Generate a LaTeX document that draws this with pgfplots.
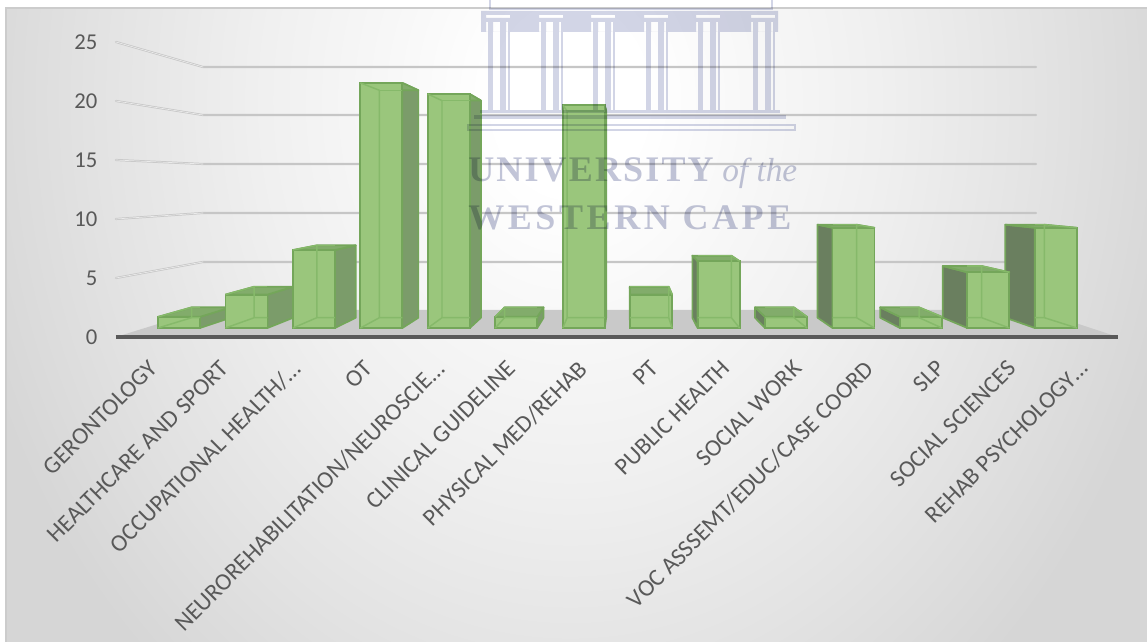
\documentclass[border=0pt]{standalone}
\usepackage{pgfplots}
\usepackage{fontspec}
\pgfplotsset{compat=1.18}
\setmainfont{Carlito}
\newfontfamily\wmfont[LetterSpace=6]{Liberation Serif}
\newfontfamily\wmwide[LetterSpace=10]{Liberation Serif}
\definecolor{labelgrey}{HTML}{595959}
\definecolor{floorgrey}{HTML}{C9C9C9}
\definecolor{gridgrey}{HTML}{C6C6C6}
\definecolor{barfront}{HTML}{9AC67C}
\definecolor{baredge}{HTML}{74A65A}
\definecolor{barinner}{HTML}{86B96A}
\definecolor{barright}{HTML}{7B9C6A}
\definecolor{barleft}{HTML}{6A7F5F}
\definecolor{bartop}{HTML}{82AC6B}
\definecolor{wmblue}{HTML}{D2D5E6}
\definecolor{wmtext}{HTML}{C2C5D8}
\pgfdeclareradialshading{bgglow}{\pgfpoint{0bp}{0bp}}{%
  color(0bp)=(white); color(3bp)=(white); color(7.5bp)=(white!97!black);
  color(12.5bp)=(white!94!black); color(19bp)=(white!89!black); color(25bp)=(white!84!black);
  color(50bp)=(white!84!black)}

\pgfplotstableread{
x       v
179     1
246.45  3
313.9   7
381.35  22
448.8   21
516.25  1
583.7   20
651.15  3
718.6   6
786.05  1
853.5   9
920.95  1
988.4   5
1055.85 9
}\bardata

% side, top and back edges of one bar, in the plane of the bar axis
\newcommand{\depthfaces}[2]{%
  \pgfmathsetmacro\xl{#1-21}\pgfmathsetmacro\xr{#1+21}%
  \pgfmathsetmacro\bl{.928*\xl+45}\pgfmathsetmacro\br{.928*\xr+45}%
  \pgfmathsetmacro\bt{.924+.928*#2}%
  \ifdim#1pt<620pt
    \edef\temp{\noexpand\addplot[barface,fill=barright] coordinates {(\xr,0) (\br,.924) (\br,\bt) (\xr,#2) (\xr,0)};}\temp
  \else
    \edef\temp{\noexpand\addplot[barface,fill=barleft] coordinates {(\xl,0) (\bl,.924) (\bl,\bt) (\xl,#2) (\xl,0)};}\temp
  \fi
  \edef\temp{\noexpand\addplot[barface,fill=bartop] coordinates {(\xl,#2) (\bl,\bt) (\br,\bt) (\xr,#2) (\xl,#2)};}\temp
}
\newcommand{\inneredges}[2]{%
  \pgfmathsetmacro\xl{#1-21}\pgfmathsetmacro\xr{#1+21}%
  \pgfmathsetmacro\bl{.928*\xl+45}\pgfmathsetmacro\br{.928*\xr+45}%
  \pgfmathsetmacro\bt{.924+.928*#2}%
  \ifdim#1pt<620pt
    \edef\temp{\noexpand\addplot[barline] coordinates {(\xl,0) (\bl,.924) (\xr,.924)};}\temp
    \edef\temp{\noexpand\addplot[barline] coordinates {(\xl,#2) (\bl,\bt) (\bl,.924)};}\temp
    \edef\temp{\noexpand\addplot[barline] coordinates {(\bl,\bt) (\xr,\bt)};}\temp
  \else
    \edef\temp{\noexpand\addplot[barline] coordinates {(\xr,0) (\br,.924) (\xl,.924)};}\temp
    \edef\temp{\noexpand\addplot[barline] coordinates {(\xr,#2) (\br,\bt) (\br,.924)};}\temp
    \edef\temp{\noexpand\addplot[barline] coordinates {(\br,\bt) (\xl,\bt)};}\temp
  \fi
}

\pgfplotsset{
  barface/.style={draw=baredge,line width=1.3pt,line join=round},
  barline/.style={draw=barinner,line width=1.1pt,line join=round},
  wallout/.style={gridgrey,line width=1.6pt,line cap=round,line join=round},
  wallin/.style={white!92!black,line width=.5pt,line cap=round,line join=round},
  chartbox/.style={
    at={(82.5pt,222.75pt)},anchor=south west,scale only axis,
    width=761.25pt,height=251.25pt,xmin=110,xmax=1125},
}

\begin{document}
\begin{tikzpicture}
  \path[use as bounding box] (0,0) rectangle (860.25pt,481.5pt);
  \fill[white] (0,0) rectangle (860.25pt,481.5pt);
  \begin{scope}
    \clip (4.5pt,0) rectangle (860.25pt,475.5pt);
    \fill[white!84!black] (0,0) rectangle (860.25pt,481.5pt);
    \shade[shading=bgglow] (427.5pt,406.5pt) ellipse [x radius=465pt,y radius=570pt];
  \end{scope}
  \draw[white!80!black,line width=.8pt] (4.5pt,0) -- (4.5pt,475.5pt) -- (860.25pt,475.5pt);

  % value axis, floor and walls
  \begin{axis}[chartbox,
      ymin=-0.678,ymax=27.712,
      axis line style={draw=none},major tick length=0pt,
      ytick={0,5,10,15,20,25},
      xtick={151.8,223.4,295,366.6,438.2,509.8,581.4,653,724.6,796.2,867.8,939.4,1011,1082.6},
      xticklabels={GERONTOLOGY,HEALTHCARE AND SPORT,OCCUPATIONAL HEALTH/\dots,OT,NEUROREHABILITATION/NEUROSCIE\dots,CLINICAL GUIDELINE,PHYSICAL MED/REHAB,PT,PUBLIC HEALTH,SOCIAL WORK,VOC ASSSEMT/EDUC/CASE COORD,SLP,SOCIAL SCIENCES,REHAB PSYCHOLOGY\dots},
      /pgf/number format/assume math mode=true,
      yticklabel style={font=\fontsize{17}{17}\selectfont,text=labelgrey,xshift=-6pt},
      xticklabel style={font=\fontsize{18}{18}\selectfont,text=labelgrey,rotate=45,anchor=north east,inner sep=0pt,xshift=-9.5pt,yshift=-5pt},
    ]
    \addplot[draw=none,fill=floorgrey] coordinates {(116,0) (203,2.29) (1036,2.29) (1118,0) (116,0)};
    \addplot[wallout] coordinates {(116,25) (203,22.88) (1036,22.88)};
    \addplot[wallout] coordinates {(116,20) (203,18.81) (1036,18.81)};
    \addplot[wallout] coordinates {(116,15) (203,14.66) (1036,14.66)};
    \addplot[wallout] coordinates {(116,10) (203,10.51) (1036,10.51)};
    \addplot[wallout] coordinates {(116,5) (203,6.36) (1036,6.36)};
    \addplot[wallin] coordinates {(116,25) (203,22.88)};
    \addplot[wallin] coordinates {(116,20) (203,18.81)};
    \addplot[wallin] coordinates {(116,15) (203,14.66)};
    \addplot[wallin] coordinates {(116,10) (203,10.51)};
    \addplot[wallin] coordinates {(116,5) (203,6.36)};
    \addplot[labelgrey,line width=2.4pt] coordinates {(116,0) (1118,0)};
  \end{axis}

  % bars, on the scale of their own plane
  \begin{axis}[chartbox,hide axis,ymin=-1.526,ymax=28.546]
    \depthfaces{179}{1}
    \depthfaces{246.45}{3}
    \depthfaces{313.9}{7}
    \depthfaces{381.35}{22}
    \depthfaces{448.8}{21}
    \depthfaces{516.25}{1}
    \depthfaces{583.7}{20}
    \depthfaces{1055.85}{9}
    \depthfaces{988.4}{5}
    \depthfaces{920.95}{1}
    \depthfaces{853.5}{9}
    \depthfaces{786.05}{1}
    \depthfaces{718.6}{6}
    \depthfaces{651.15}{3}
    \addplot[ybar,bar width=42,bar shift=0pt,fill=barfront,draw=baredge,line width=1.4pt] table[x=x,y=v] {\bardata};
    \inneredges{179}{1}
    \inneredges{246.45}{3}
    \inneredges{313.9}{7}
    \inneredges{381.35}{22}
    \inneredges{448.8}{21}
    \inneredges{516.25}{1}
    \inneredges{583.7}{20}
    \inneredges{651.15}{3}
    \inneredges{718.6}{6}
    \inneredges{786.05}{1}
    \inneredges{853.5}{9}
    \inneredges{920.95}{1}
    \inneredges{988.4}{5}
    \inneredges{1055.85}{9}
  \end{axis}

  % watermark lying over the chart, in reference pixels
  \begin{scope}[x=.75pt,y=-.75pt,yshift=481.5pt,blend mode=multiply]
    \draw[wmblue,line width=1pt] (490,0) -- (490,9) -- (772,9) -- (772,0);
    \fill[wmblue,even odd rule] (481,11) rectangle (778,32)
      \foreach \c in {498,551,603,656,708,763}{
        (\c-12,15) rectangle (\c+12,18)
        (\c-12,22) rectangle (\c-10,32)
        (\c-5,22) rectangle (\c+2,32)
        (\c+8,22) rectangle (\c+10,32)
      };
    \foreach \c in {498,551,603,656,708,763}{
      \fill[wmblue] (\c-10,32) rectangle (\c-5,110);
      \fill[wmblue] (\c+2,32) rectangle (\c+8,110);
      \fill[wmblue] (\c+10,32) rectangle (\c+12,110);
    }
    \fill[wmblue] (480,110) rectangle (780,113);
    \fill[wmblue] (474,115) rectangle (786,119);
    \draw[wmblue,line width=1.8pt] (468,125) rectangle (795,130);
    \node[anchor=base west,inner sep=0pt,text=wmtext] at (468,182)
      {\wmfont\fontsize{27}{27}\selectfont\bfseries UNIVERSITY};
    \node[anchor=base west,inner sep=0pt,text=wmtext] at (722,182)
      {\fontspec{Liberation Serif}\fontsize{25}{25}\selectfont\itshape of the};
    \node[anchor=base west,inner sep=0pt,text=wmtext] at (468,230)
      {\wmwide\fontsize{27}{27}\selectfont\bfseries WESTERN CAPE};
  \end{scope}
\end{tikzpicture}
\end{document}
